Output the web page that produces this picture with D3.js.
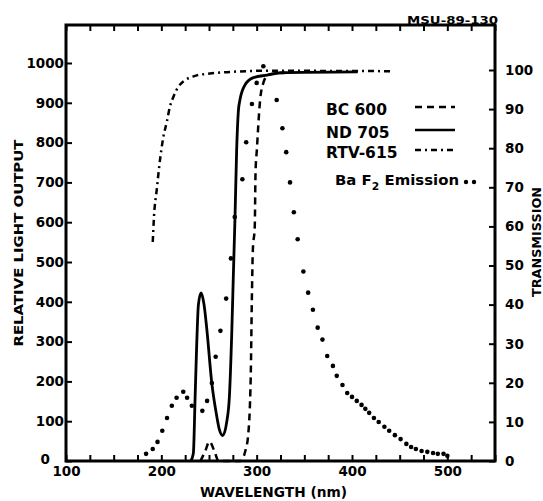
<!DOCTYPE html>
<html>
<head>
<meta charset="utf-8">
<script src="https://cdn.jsdelivr.net/npm/d3@7"></script>
<style>
  body { margin: 0; background: #fff; }
  svg text { font-family: "DejaVu Sans", sans-serif; font-weight: bold; fill: #000; }
</style>
</head>
<body>
<svg id="chart" width="543" height="501"></svg>
<script>
// values
const baf2Nm  = [184, 191, 196, 201, 206, 211, 216, 223, 227, 232, 243, 248, 253, 257, 262, 268, 273, 277, 285, 289, 295, 300, 307,
                 321, 327, 331, 335, 339, 343, 349, 354, 359, 364, 369, 374, 380, 384, 390, 395, 400, 405, 410, 414, 418, 423,
                 428, 434, 439, 445, 451, 457, 462, 467, 473, 479, 485, 490, 496, 500];
const baf2Out = [18, 30, 48, 76, 108, 139, 159, 174, 159, 139, 126, 151, 196, 262, 327, 408, 509, 613, 708, 801, 897, 950, 992,
                 907, 836, 776, 700, 625, 557, 476, 423, 380, 335, 305, 264, 239, 214, 191, 171, 161, 151, 141, 131, 121, 108,
                 98, 86, 76, 65, 55, 43, 35, 30, 25, 23, 20, 18, 18, 13];

const nd705Nm = [231, 233.6, 235.4, 237, 238.9, 241.7, 244.8, 247.6, 252.9, 257.4, 260.9, 264.4, 268.6, 271.4, 273.9, 275.6,
                 277.3, 279, 280.8, 282.6, 287.8, 296, 311, 325, 406];
const nd705T  = [0, 2, 16, 29, 40, 43, 40, 34, 20, 12.5, 8, 6.5, 10, 16.5, 33, 48, 62.5, 79.5, 89.5, 92.5, 96.2, 98, 98.7, 99.3, 99.5];

const bc600Nm = [241, 246, 250.4, 256, 260, 283, 287.8, 291, 293.8, 294.9, 296, 298, 298.8, 300.2, 303.6, 307, 312, 330];
const bc600T  = [0, 2.5, 5, 2.3, 0, 0, 2.3, 6.4, 21.8, 40.6, 54, 60, 73.7, 79.6, 92.3, 96.7, 98.7, 99.3];

const rtvNm = [191, 192.3, 195.2, 198.6, 202, 205.7, 209, 212.6, 217.8, 224.9, 235.4, 251, 272, 306.7, 440];
const rtvT  = [56, 62.5, 69.4, 77, 82.7, 86.7, 90.6, 93.1, 95.7, 97.4, 98.5, 99.1, 99.5, 99.8, 99.7];

const xTicks = d3.range(100, 551, 25);
const xLabels = [100, 200, 300, 400, 500];
const leftTicks = d3.range(0, 1001, 100);
const rightTicks = d3.range(0, 101, 10);

const legendNames = ['BC 600', 'ND 705', 'RTV-615'];
const legendDash = ['7,5', null, '6,4,2,4'];

const svg = d3.select('#chart');
svg.append('rect').attr('width', 543).attr('height', 501).attr('fill', '#fff');

const x = d3.scaleLinear().domain([100, 550]).range([66, 495]);
const yL = d3.scaleLinear().domain([0, 1000]).range([461, 63]);
const yR = d3.scaleLinear().domain([0, 100]).range([461, 70]);

function styleAxis(g, size) {
  g.select('.domain').remove();
  g.selectAll('.tick line').attr('stroke', '#000').attr('stroke-width', 2);
  g.selectAll('.tick text').style('font-size', size + 'px').attr('fill', '#000');
}

svg.append('g')
  .attr('transform', 'translate(0,461)')
  .call(d3.axisBottom(x).tickValues(xTicks).tickSizeInner(-6).tickSizeOuter(0).tickPadding(5)
    .tickFormat(d => xLabels.includes(d) ? d : ''))
  .call(g => styleAxis(g, 13.5));

svg.append('g')
  .attr('transform', 'translate(0,25)')
  .call(d3.axisTop(x).tickValues(xTicks).tickSizeInner(-6).tickSizeOuter(0).tickFormat(''))
  .call(g => styleAxis(g, 13));

svg.append('g')
  .attr('transform', 'translate(66,0)')
  .call(d3.axisLeft(yL).tickValues(leftTicks).tickSizeInner(-6).tickSizeOuter(0).tickPadding(2)
    .tickFormat(d3.format('d')))
  .call(g => styleAxis(g, 13.5))
  .call(g => g.selectAll('.tick text').filter(d => d === 0).attr('x', -16).attr('dy', '0.2em'));

svg.append('g')
  .attr('transform', 'translate(495,0)')
  .call(d3.axisRight(yR).tickValues(rightTicks).tickSizeInner(-6).tickSizeOuter(0).tickPadding(10))
  .call(g => styleAxis(g, 13.5));

// frame
svg.append('rect')
  .attr('x', 66).attr('y', 25)
  .attr('width', 495 - 66).attr('height', 461 - 25)
  .attr('fill', 'none').attr('stroke', '#000').attr('stroke-width', 3);

const line = d3.line()
  .x(d => x(d[0]))
  .y(d => yR(d[1]))
  .curve(d3.curveMonotoneX);

const curves = [
  d3.zip(bc600Nm, bc600T),
  d3.zip(nd705Nm, nd705T),
  d3.zip(rtvNm, rtvT)
];

svg.append('g').selectAll('path')
  .data(curves)
  .join('path')
  .attr('d', line)
  .attr('fill', 'none')
  .attr('stroke', '#000')
  .attr('stroke-width', (d, i) => i === 1 ? 2.8 : 2.5)
  .attr('stroke-dasharray', (d, i) => legendDash[i]);

svg.append('g').selectAll('circle')
  .data(d3.zip(baf2Nm, baf2Out))
  .join('circle')
  .attr('cx', d => x(d[0]))
  .attr('cy', d => yL(d[1]))
  .attr('r', 2.3)
  .attr('fill', '#000');

// legend
const legY = [115, 138, 158];
const leg = svg.append('g');
leg.selectAll('text.name')
  .data(legendNames)
  .join('text')
  .attr('class', 'name')
  .attr('x', 326)
  .attr('y', (d, i) => legY[i])
  .style('font-size', '15.5px')
  .text(d => d);
leg.selectAll('line')
  .data(legendNames)
  .join('line')
  .attr('x1', 415).attr('x2', 455)
  .attr('y1', (d, i) => legY[i] - 8).attr('y2', (d, i) => legY[i] - 8)
  .attr('stroke', '#000')
  .attr('stroke-width', 2.5)
  .attr('stroke-dasharray', (d, i) => legendDash[i]);

const baLabel = leg.append('text').attr('x', 335).attr('y', 185).style('font-size', '14.5px')
  .attr('textLength', 124).attr('lengthAdjust', 'spacingAndGlyphs');
baLabel.append('tspan').text('Ba F');
baLabel.append('tspan').attr('dy', 5).style('font-size', '10.5px').text('2');
baLabel.append('tspan').attr('dy', -5).text(' Emission');
leg.selectAll('circle')
  .data([466, 474])
  .join('circle')
  .attr('cx', d => d).attr('cy', 182).attr('r', 2.2).attr('fill', '#000');

// titles
svg.append('text')
  .attr('transform', 'translate(18,243) rotate(-90)')
  .attr('text-anchor', 'middle').attr('dy', '0.36em')
  .style('font-size', '13px')
  .attr('textLength', 207).attr('lengthAdjust', 'spacingAndGlyphs')
  .text('RELATIVE LIGHT OUTPUT');

svg.append('text')
  .attr('transform', 'translate(536,242) rotate(-90)')
  .attr('text-anchor', 'middle').attr('dy', '0.36em')
  .style('font-size', '12.5px')
  .attr('textLength', 110).attr('lengthAdjust', 'spacingAndGlyphs')
  .text('TRANSMISSION');

svg.append('text')
  .attr('x', 200).attr('y', 497)
  .style('font-size', '13.5px')
  .attr('textLength', 147).attr('lengthAdjust', 'spacingAndGlyphs')
  .text('WAVELENGTH (nm)');

svg.append('text')
  .attr('x', 407).attr('y', 24)
  .style('font-size', '11px')
  .attr('textLength', 91).attr('lengthAdjust', 'spacingAndGlyphs')
  .text('MSU-89-130');
</script>
</body>
</html>
